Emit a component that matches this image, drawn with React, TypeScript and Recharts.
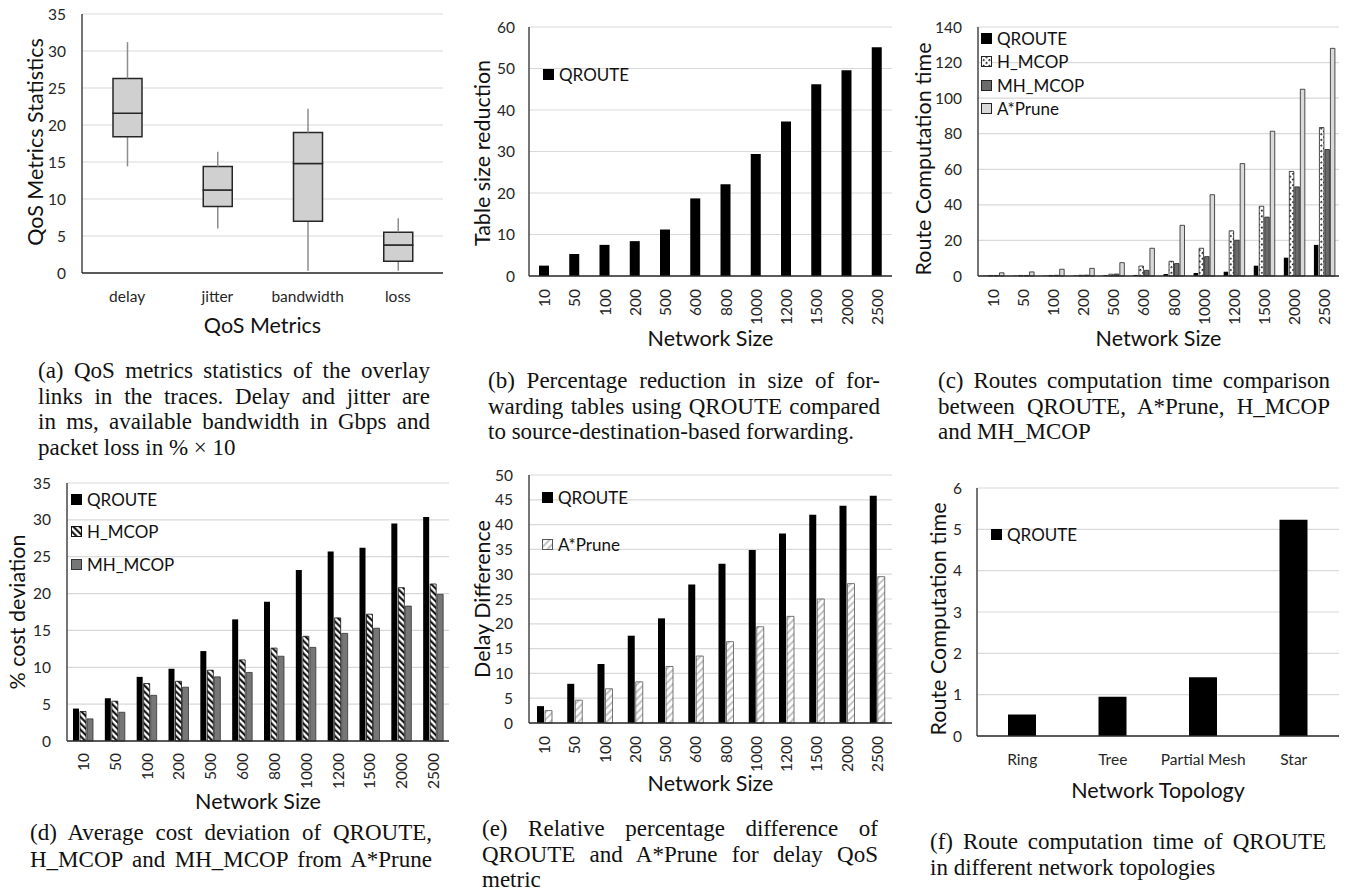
import React from 'react';
import { BarChart, Bar, XAxis, YAxis, CartesianGrid, Legend } from 'recharts';

const FONT = 'Lato, "Open Sans", sans-serif';
const SERIF = '"Liberation Serif", "Times New Roman", serif';

// (a) QoS metric box plots
const qosMetrics = ['delay', 'jitter', 'bandwidth', 'loss'];
const qosMin = [14.4, 6.0, 0.3, 0.3];
const qosQ1 = [18.4, 9.0, 7.0, 1.6];
const qosMedian = [21.6, 11.2, 14.8, 3.8];
const qosQ3 = [26.3, 14.4, 19.0, 5.5];
const qosMax = [31.2, 16.4, 22.2, 7.4];

const networkSizes = ['10', '50', '100', '200', '500', '600', '800', '1000', '1200', '1500', '2000', '2500'];

// (b) table size reduction
const tableReduction = [2.5, 5.3, 7.5, 8.4, 11.2, 18.7, 22.1, 29.4, 37.2, 46.2, 49.6, 55.1];

// (c) route computation time
const timeQroute = [0.2, 0.2, 0.2, 0.3, 0.5, 0.6, 1.1, 1.7, 2.4, 5.8, 10.3, 17.5];
const timeHmcop = [0.3, 0.3, 0.3, 0.4, 1.0, 5.6, 8.3, 15.6, 25.4, 39.2, 58.8, 83.5];
const timeMhmcop = [0.3, 0.3, 0.4, 0.5, 1.1, 3.2, 7.0, 10.9, 20.1, 33.1, 50.1, 71.1];
const timeAprune = [1.8, 2.3, 3.8, 4.3, 7.5, 15.6, 28.5, 45.7, 63.2, 81.4, 105.0, 128.0];

// (d) cost deviation
const costQroute = [4.4, 5.8, 8.7, 9.8, 12.2, 16.5, 18.9, 23.2, 25.7, 26.2, 29.5, 30.4];
const costHmcop = [4.0, 5.4, 7.8, 8.1, 9.6, 11.0, 12.6, 14.2, 16.7, 17.2, 20.8, 21.3];
const costMhmcop = [3.0, 3.9, 6.2, 7.3, 8.7, 9.3, 11.5, 12.7, 14.6, 15.3, 18.3, 19.9];

// (e) delay difference
const delayQroute = [3.4, 7.9, 11.9, 17.6, 21.1, 27.9, 32.1, 34.9, 38.2, 42.0, 43.8, 45.8];
const delayAprune = [2.5, 4.6, 6.9, 8.3, 11.4, 13.5, 16.4, 19.4, 21.5, 25.0, 28.1, 29.5];

// (f) topologies
const topologies = ['Ring', 'Tree', 'Partial Mesh', 'Star'];
const topologyTime = [0.52, 0.95, 1.42, 5.23];

const boxData = qosMetrics.map((name, i) => ({
  name,
  base: qosMin[i],
  lowWhisker: qosQ1[i] - qosMin[i],
  lowerBox: qosMedian[i] - qosQ1[i],
  upperBox: qosQ3[i] - qosMedian[i],
  highWhisker: qosMax[i] - qosQ3[i],
}));
const reductionData = networkSizes.map((name, i) => ({ name, qroute: tableReduction[i] }));
const timeData = networkSizes.map((name, i) => ({
  name,
  qroute: timeQroute[i],
  hmcop: timeHmcop[i],
  mhmcop: timeMhmcop[i],
  aprune: timeAprune[i],
}));
const costData = networkSizes.map((name, i) => ({
  name,
  qroute: costQroute[i],
  hmcop: costHmcop[i],
  mhmcop: costMhmcop[i],
}));
const delayData = networkSizes.map((name, i) => ({ name, qroute: delayQroute[i], aprune: delayAprune[i] }));
const topologyData = topologies.map((name, i) => ({ name, qroute: topologyTime[i] }));

const BORDER = { stroke: '#2b2b2b', strokeWidth: 1.3 };
const TICK = { fontSize: 15.5, fontFamily: FONT, fill: '#262626' };
const TITLE = 21.5;

const RotatedTick = (props: any) => {
  const { x, y, payload } = props;
  return (
    <text
      x={x}
      y={y}
      transform={`rotate(-90 ${x} ${y})`}
      textAnchor="end"
      dominantBaseline="central"
      fontSize={15.5}
      fontFamily={FONT}
      fill="#262626"
    >
      {payload.value}
    </text>
  );
};

const Whisker = (props: any) => {
  const { x, y, width, height } = props;
  const cx = x + width / 2;
  return <line x1={cx} x2={cx} y1={y} y2={y + height} stroke="#8c8c8c" strokeWidth={1.5} />;
};

interface FrameCfg {
  yWidth: number;
  xHeight: number;
  yDomain: [number, number];
  yTicks: number[];
  yLabel: string;
  yDx: number;
  yDy?: number;
  yGap: number;
  xLabel: string;
  xDy: number;
  xGap: number;
  rotated?: boolean;
}

function frame(c: FrameCfg) {
  return [
    <CartesianGrid key="grid" vertical={false} stroke="#d9d9d9" strokeWidth={1.2} />,
    <XAxis
      key="x"
      dataKey="name"
      interval={0}
      height={c.xHeight}
      tickSize={0}
      tickMargin={c.xGap}
      tickLine={false}
      axisLine={BORDER}
      tick={c.rotated ? <RotatedTick /> : TICK}
      label={{ value: c.xLabel, position: 'center', dy: c.xDy, fontSize: TITLE, fontFamily: FONT, fill: '#111' }}
    />,
    <XAxis key="xt" xAxisId="t" orientation="top" dataKey="name" height={0} tick={false} tickLine={false} axisLine={BORDER} />,
    <YAxis
      key="y"
      width={c.yWidth}
      domain={c.yDomain}
      ticks={c.yTicks}
      interval={0}
      tickSize={0}
      tickMargin={c.yGap}
      tickLine={false}
      axisLine={BORDER}
      tick={TICK}
      label={{
        value: c.yLabel,
        angle: -90,
        position: 'center',
        dx: c.yDx,
        dy: c.yDy ?? 0,
        fontSize: TITLE,
        fontFamily: FONT,
        fill: '#111',
      }}
    />,
    <YAxis key="yr" yAxisId="r" orientation="right" width={0} domain={[0, 1]} tick={false} tickLine={false} axisLine={BORDER} />,
  ];
}

interface LegendItem {
  name: string;
  fill: string;
  stroke?: string;
}

function legendContent(items: LegendItem[], rowHeight: number) {
  return () => (
    <div style={{ fontFamily: FONT, fontSize: 17, color: '#111' }}>
      {items.map((it) => (
        <div key={it.name} style={{ display: 'flex', alignItems: 'center', height: rowHeight }}>
          <svg width={11} height={11} style={{ marginRight: 5, display: 'block' }}>
            <rect x={0.5} y={0.5} width={10} height={10} fill={it.fill} stroke={it.stroke ?? it.fill} />
          </svg>
          <span>{it.name}</span>
        </div>
      ))}
    </div>
  );
}

function legend(items: LegendItem[], left: number, top: number, rowHeight: number) {
  return (
    <Legend
      layout="vertical"
      align="center"
      verticalAlign="middle"
      wrapperStyle={{ left, top, width: 'auto' }}
      content={legendContent(items, rowHeight)}
    />
  );
}

const Caption = ({ left, top, width, lineHeight, lines, justifyLast }: any) => (
  <div
    style={{
      position: 'absolute',
      left,
      top,
      width,
      fontFamily: SERIF,
      fontSize: 23,
      lineHeight: `${lineHeight}px`,
      color: '#111',
    }}
  >
    {lines.map((l: string, i: number) => (
      <div
        key={i}
        style={{ textAlign: 'justify', textAlignLast: i < lines.length - 1 || justifyLast ? 'justify' : 'left' }}
      >
        {l}
      </div>
    ))}
  </div>
);

const pos = (left: number, top: number): React.CSSProperties => ({ position: 'absolute', left, top });

export default function App() {
  return (
    <div style={{ position: 'absolute', left: 0, top: 0, width: 1350, height: 892, background: '#fff', overflow: 'hidden' }}>
      {/* (a) */}
      <div style={pos(0, 0)}>
        <BarChart width={450} height={345} data={boxData} margin={{ top: 14, right: 7, left: 0, bottom: 5 }} barSize={29}>
          {frame({
            yWidth: 82,
            xHeight: 67,
            yDomain: [0, 35],
            yTicks: [0, 5, 10, 15, 20, 25, 30, 35],
            yLabel: 'QoS Metrics Statistics',
            yDx: -6,
            yDy: -1.5,
            yGap: 16,
            xLabel: 'QoS Metrics',
            xDy: 18.5,
            xGap: 18,
          })}
          <Bar dataKey="base" stackId="box" fill="transparent" isAnimationActive={false} />
          <Bar dataKey="lowWhisker" stackId="box" shape={<Whisker />} isAnimationActive={false} />
          <Bar dataKey="lowerBox" stackId="box" fill="#d0d0d0" stroke="#262626" strokeWidth={1.5} isAnimationActive={false} />
          <Bar dataKey="upperBox" stackId="box" fill="#d0d0d0" stroke="#262626" strokeWidth={1.5} isAnimationActive={false} />
          <Bar dataKey="highWhisker" stackId="box" shape={<Whisker />} isAnimationActive={false} />
        </BarChart>
      </div>

      {/* (b) */}
      <div style={pos(450, 0)}>
        <BarChart width={450} height={355} data={reductionData} margin={{ top: 27, right: 8, left: 0, bottom: 5 }} barSize={10}>
          {frame({
            yWidth: 79,
            xHeight: 74,
            yDomain: [0, 60],
            yTicks: [0, 10, 20, 30, 40, 50, 60],
            yLabel: 'Table size reduction',
            yDx: -7.5,
            yDy: 1.5,
            yGap: 14,
            xLabel: 'Network Size',
            xDy: 25,
            xGap: 13,
            rotated: true,
          })}
          {legend([{ name: 'QROUTE', fill: '#000' }], 93, 62, 24)}
          <Bar dataKey="qroute" name="QROUTE" fill="#000" isAnimationActive={false} />
        </BarChart>
      </div>

      {/* (c) */}
      <div style={pos(900, 0)}>
        <BarChart
          width={450}
          height={355}
          data={timeData}
          margin={{ top: 27, right: 11, left: 0, bottom: 5 }}
          barSize={4.5}
          barGap={1}
        >
          <defs>
            <pattern id="dashC" width="4" height="4" patternUnits="userSpaceOnUse" patternTransform="rotate(45)">
              <rect width="4" height="4" fill="#fff" />
              <rect x="0" y="0" width="1.6" height="2" fill="#222" />
            </pattern>
          </defs>
          {frame({
            yWidth: 78,
            xHeight: 74,
            yDomain: [0, 140],
            yTicks: [0, 20, 40, 60, 80, 100, 120, 140],
            yLabel: 'Route Computation time',
            yDx: -16,
            yDy: 7.5,
            yGap: 16,
            xLabel: 'Network Size',
            xDy: 25,
            xGap: 13,
            rotated: true,
          })}
          {legend(
            [
              { name: 'QROUTE', fill: '#000' },
              { name: 'H_MCOP', fill: 'url(#dashC)', stroke: '#222' },
              { name: 'MH_MCOP', fill: '#6b6b6b', stroke: '#222' },
              { name: 'A*Prune', fill: '#d9d9d9', stroke: '#222' },
            ],
            81,
            27,
            23.3
          )}
          <Bar dataKey="qroute" name="QROUTE" fill="#000" isAnimationActive={false} />
          <Bar dataKey="hmcop" name="H_MCOP" fill="url(#dashC)" stroke="#222" strokeWidth={0.8} isAnimationActive={false} />
          <Bar dataKey="mhmcop" name="MH_MCOP" fill="#6b6b6b" stroke="#222" strokeWidth={0.8} isAnimationActive={false} />
          <Bar dataKey="aprune" name="A*Prune" fill="#d9d9d9" stroke="#222" strokeWidth={0.8} isAnimationActive={false} />
        </BarChart>
      </div>

      {/* (d) */}
      <div style={pos(0, 460)}>
        <BarChart
          width={450}
          height={362}
          data={costData}
          margin={{ top: 23, right: 1, left: 0, bottom: 12 }}
          barSize={6}
          barGap={1}
        >
          <defs>
            <pattern id="hatchD" width="4.5" height="4.5" patternUnits="userSpaceOnUse" patternTransform="rotate(-45)">
              <rect width="4.5" height="4.5" fill="#fff" />
              <line x1="1.2" y1="0" x2="1.2" y2="4.5" stroke="#000" strokeWidth="2" />
            </pattern>
          </defs>
          {frame({
            yWidth: 67,
            xHeight: 69,
            yDomain: [0, 35],
            yTicks: [0, 5, 10, 15, 20, 25, 30, 35],
            yLabel: '% cost deviation',
            yDx: -16.5,
            yGap: 16,
            xLabel: 'Network Size',
            xDy: 25.5,
            xGap: 12,
            rotated: true,
          })}
          {legend(
            [
              { name: 'QROUTE', fill: '#000' },
              { name: 'H_MCOP', fill: 'url(#hatchD)', stroke: '#111' },
              { name: 'MH_MCOP', fill: '#767676', stroke: '#333' },
            ],
            71,
            23,
            32.5
          )}
          <Bar dataKey="qroute" name="QROUTE" fill="#000" isAnimationActive={false} />
          <Bar dataKey="hmcop" name="H_MCOP" fill="url(#hatchD)" stroke="#111" strokeWidth={0.8} isAnimationActive={false} />
          <Bar dataKey="mhmcop" name="MH_MCOP" fill="#767676" stroke="#333" strokeWidth={0.8} isAnimationActive={false} />
        </BarChart>
      </div>

      {/* (e) */}
      <div style={pos(450, 460)}>
        <BarChart
          width={450}
          height={350}
          data={delayData}
          margin={{ top: 15, right: 8, left: 0, bottom: 10 }}
          barSize={7}
          barGap={1}
        >
          <defs>
            <pattern id="hatchE" width="5" height="5" patternUnits="userSpaceOnUse" patternTransform="rotate(45)">
              <rect width="5" height="5" fill="#fff" />
              <line x1="1" y1="0" x2="1" y2="5" stroke="#8a8a8a" strokeWidth="1" />
            </pattern>
          </defs>
          {frame({
            yWidth: 79,
            xHeight: 77,
            yDomain: [0, 50],
            yTicks: [0, 5, 10, 15, 20, 25, 30, 35, 40, 45, 50],
            yLabel: 'Delay Difference',
            yDx: -7.5,
            yGap: 16,
            xLabel: 'Network Size',
            xDy: 21.5,
            xGap: 13,
            rotated: true,
          })}
          {legend(
            [
              { name: 'QROUTE', fill: '#000' },
              { name: 'A*Prune', fill: 'url(#hatchE)', stroke: '#555' },
            ],
            92,
            13.5,
            47
          )}
          <Bar dataKey="qroute" name="QROUTE" fill="#000" isAnimationActive={false} />
          <Bar dataKey="aprune" name="A*Prune" fill="url(#hatchE)" stroke="#555" strokeWidth={0.8} isAnimationActive={false} />
        </BarChart>
      </div>

      {/* (f) */}
      <div style={pos(900, 460)}>
        <BarChart width={450} height={360} data={topologyData} margin={{ top: 28, right: 11, left: 0, bottom: 20 }} barSize={28}>
          {frame({
            yWidth: 77,
            xHeight: 64,
            yDomain: [0, 6],
            yTicks: [0, 1, 2, 3, 4, 5, 6],
            yLabel: 'Route Computation time',
            yDx: -0.5,
            yDy: 7,
            yGap: 15,
            xLabel: 'Network Topology',
            xDy: 22,
            xGap: 18,
          })}
          {legend([{ name: 'QROUTE', fill: '#000' }], 91, 62, 24)}
          <Bar dataKey="qroute" name="QROUTE" fill="#000" isAnimationActive={false} />
        </BarChart>
      </div>

      <Caption
        left={38}
        top={358}
        width={392}
        lineHeight={25.7}
        lines={[
          '(a) QoS metrics statistics of the overlay',
          'links in the traces. Delay and jitter are',
          'in ms, available bandwidth in Gbps and',
          'packet loss in %\u00A0×\u00A010',
        ]}
      />
      <Caption
        left={488}
        top={368}
        width={392}
        lineHeight={25.5}
        lines={[
          '(b) Percentage reduction in size of for-',
          'warding tables using QROUTE compared',
          'to source-destination-based forwarding.',
        ]}
      />
      <Caption
        left={938}
        top={368}
        width={392}
        lineHeight={25.5}
        lines={['(c) Routes computation time comparison', 'between QROUTE, A*Prune, H_MCOP', 'and MH_MCOP']}
      />
      <Caption
        left={30}
        top={820}
        width={402}
        lineHeight={26.5}
        justifyLast
        lines={['(d) Average cost deviation of QROUTE,', 'H_MCOP and MH_MCOP from A*Prune']}
      />
      <Caption
        left={482}
        top={816}
        width={396}
        lineHeight={25.5}
        lines={['(e) Relative percentage difference of', 'QROUTE and A*Prune for delay QoS', 'metric']}
      />
      <Caption
        left={930}
        top={829}
        width={396}
        lineHeight={26}
        lines={['(f) Route computation time of QROUTE', 'in different network topologies']}
      />
    </div>
  );
}
